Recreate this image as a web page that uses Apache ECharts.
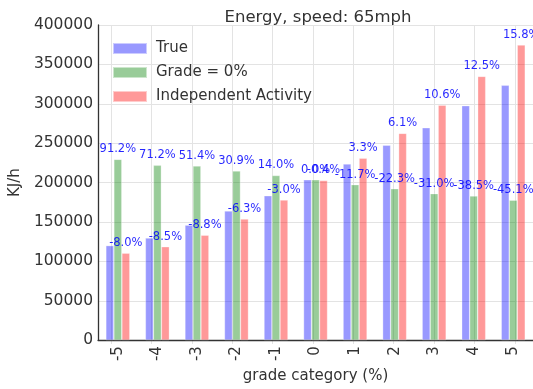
<!DOCTYPE html>
<html>
<head>
<meta charset="utf-8">
<script src="https://cdn.jsdelivr.net/npm/echarts@6/dist/echarts.min.js"></script>
<style>
html,body{margin:0;padding:0;background:#fff;}
#c{width:533px;height:389px;}
</style>
</head>
<body>
<div id="c"></div>
<script>
const categories = ['-5','-4','-3','-2','-1','0','1','2','3','4','5'];
const trueVals = [120000, 129600, 146000, 164000, 183300, 203500, 223600, 247400, 269600, 297600, 323500];
const gradeZeroVals = [229500, 221900, 221100, 214700, 209000, 203500, 197400, 192200, 186000, 183000, 177600];
const independentVals = [110400, 118600, 133200, 153700, 177800, 202700, 231000, 262500, 298200, 334800, 374600];
const gradeZeroLabels = ['91.2%','71.2%','51.4%','30.9%','14.0%','0.0%','-11.7%','-22.3%','-31.0%','-38.5%','-45.1%'];
const independentLabels = ['-8.0%','-8.5%','-8.8%','-6.3%','-3.0%','-0.4%','3.3%','6.1%','10.6%','12.5%','15.8%'];

const FONT = 'DejaVu Sans';
const chart = echarts.init(document.getElementById('c'), null, {renderer:'canvas'});

const pctLabel = (labels) => ({
  show: true,
  position: 'top',
  distance: 4,
  fontFamily: FONT,
  fontSize: 11.5,
  color: '#0000ff',
  opacity: 0.85,
  formatter: (p) => labels[p.dataIndex]
});

chart.setOption({
  animation: false,
  backgroundColor: '#fff',
  textStyle: {fontFamily: FONT},
  title: {
    text: 'Energy, speed: 65mph',
    left: 313, top: 4, textAlign: 'center',
    textStyle: {fontFamily: FONT, fontSize: 16.5, fontWeight: 'normal', color: '#333'}
  },
  legend: {
    orient: 'vertical',
    left: 107, top: 36,
    itemWidth: 34, itemHeight: 11, itemGap: 9,
    icon: 'rect',
    textStyle: {fontFamily: FONT, fontSize: 15, color: '#333', padding: [0,0,0,4]},
    data: ['True', 'Grade = 0%', 'Independent Activity']
  },
  grid: [
    {left: 91, top: 25, width: 444, height: 319},
    {left: 111.2, top: 25, width: 403.6, height: 319}
  ],
  xAxis: [
    {
      type: 'category', gridIndex: 0, data: categories,
      axisLine: {show: true, lineStyle: {color: '#333', width: 1.3}},
      axisTick: {show: false},
      splitLine: {show: false},
      axisLabel: {rotate: 90, margin: 6, fontFamily: FONT, fontSize: 15, color: '#333'},
      name: 'grade category (%)', nameLocation: 'middle', nameGap: 22,
      nameTextStyle: {fontFamily: FONT, fontSize: 15, color: '#333'}
    },
    {
      type: 'value', gridIndex: 1, min: -5, max: 5, interval: 1,
      axisLine: {show: false}, axisTick: {show: false}, axisLabel: {show: false},
      splitLine: {show: true, lineStyle: {color: '#e3e3e3', width: 1}}
    }
  ],
  yAxis: [
    {
      type: 'value', gridIndex: 0, min: 0, max: 400000, interval: 50000,
      axisLine: {show: true, lineStyle: {color: '#333', width: 1.3}},
      axisTick: {show: false},
      splitLine: {show: true, lineStyle: {color: '#e3e3e3', width: 1}},
      axisLabel: {margin: 5, fontFamily: FONT, fontSize: 15.5, color: '#333', formatter: (v) => String(v)},
      name: 'KJ/h', nameLocation: 'middle', nameGap: 63,
      nameTextStyle: {fontFamily: FONT, fontSize: 15, color: '#333'}
    },
    {
      type: 'value', gridIndex: 1, min: 0, max: 1, show: false
    }
  ],
  series: [
    {
      name: 'True', type: 'bar', xAxisIndex: 0, yAxisIndex: 0,
      data: trueVals, barWidth: 8, barGap: '0%',
      itemStyle: {color: 'rgba(0,0,255,0.4)', borderColor: 'rgba(255,255,255,0.5)', borderWidth: 0.6}
    },
    {
      name: 'Grade = 0%', type: 'bar', xAxisIndex: 0, yAxisIndex: 0,
      data: gradeZeroVals, barWidth: 8, barGap: '0%',
      itemStyle: {color: 'rgba(0,128,0,0.4)', borderColor: 'rgba(255,255,255,0.5)', borderWidth: 0.6},
      label: pctLabel(gradeZeroLabels)
    },
    {
      name: 'Independent Activity', type: 'bar', xAxisIndex: 0, yAxisIndex: 0,
      data: independentVals, barWidth: 8, barGap: '0%',
      itemStyle: {color: 'rgba(255,0,0,0.4)', borderColor: 'rgba(255,255,255,0.5)', borderWidth: 0.6},
      label: pctLabel(independentLabels)
    }
  ]
});
</script>
</body>
</html>
